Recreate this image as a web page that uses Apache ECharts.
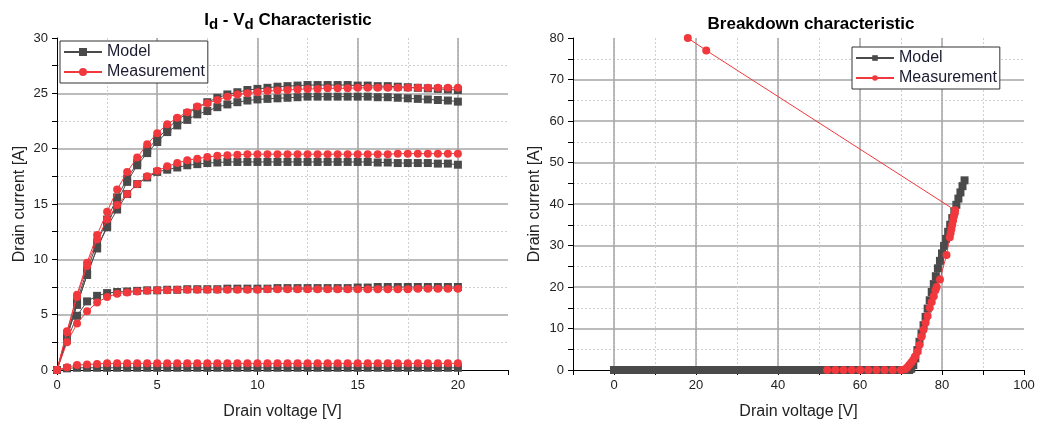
<!DOCTYPE html>
<html lang="en">
<head>
    <meta charset="UTF-8">
    <title>Id-Vd and breakdown</title>
    <script src="https://cdn.jsdelivr.net/npm/echarts@6/dist/echarts.min.js"></script>
    <style>
        html, body { margin: 0; padding: 0; background: #fff; }
        #chart { width: 1038px; height: 425px; }
    </style>
</head>
<body>
    <div id="chart"></div>

    <script>
        // ---- Id - Vd data (drain voltage sweep, 0.5 V step) ----
        var vdSweep = [0, 0.5, 1, 1.5, 2, 2.5, 3, 3.5, 4, 4.5, 5, 5.5, 6, 6.5, 7, 7.5, 8, 8.5, 9, 9.5, 10,
            10.5, 11, 11.5, 12, 12.5, 13, 13.5, 14, 14.5, 15, 15.5, 16, 16.5, 17, 17.5, 18, 18.5, 19, 19.5, 20];

        var modelA = [0, 3.2, 6.2, 9.0, 11.5, 13.6, 15.6, 17.3, 18.7, 19.9, 20.9, 21.8, 22.6, 23.2, 23.7, 24.2, 24.6, 24.9, 25.1, 25.3, 25.4,
            25.5, 25.6, 25.65, 25.7, 25.75, 25.75, 25.75, 25.75, 25.75, 25.7, 25.7, 25.65, 25.65, 25.6, 25.55, 25.5, 25.45, 25.4, 25.35, 25.3];
        var modelB = [0, 3.0, 5.9, 8.6, 11.0, 13.0, 15.2, 17.0, 18.5, 19.6, 20.6, 21.5, 22.1, 22.6, 23.1, 23.4, 23.75, 24.0, 24.2, 24.35, 24.45,
            24.5, 24.55, 24.6, 24.65, 24.7, 24.7, 24.7, 24.7, 24.7, 24.7, 24.7, 24.65, 24.65, 24.6, 24.55, 24.5, 24.45, 24.4, 24.35, 24.25];
        var modelC = [0, 3.0, 5.9, 8.6, 11.0, 12.9, 14.5, 15.9, 16.8, 17.4, 17.9, 18.1, 18.3, 18.5, 18.6, 18.7, 18.75, 18.8, 18.8, 18.8, 18.8,
            18.8, 18.8, 18.8, 18.8, 18.8, 18.8, 18.8, 18.8, 18.8, 18.8, 18.8, 18.75, 18.75, 18.7, 18.7, 18.7, 18.7, 18.65, 18.65, 18.55];
        var modelD = [0, 2.7, 4.9, 6.2, 6.7, 6.95, 7.05, 7.1, 7.15, 7.2, 7.2, 7.25, 7.25, 7.3, 7.3, 7.3, 7.3, 7.35, 7.35, 7.35, 7.35,
            7.35, 7.4, 7.4, 7.4, 7.4, 7.4, 7.4, 7.4, 7.4, 7.45, 7.45, 7.5, 7.5, 7.5, 7.5, 7.5, 7.5, 7.5, 7.5, 7.5];
        var modelE = [0, 0.15, 0.2, 0.2, 0.2, 0.2, 0.2, 0.2, 0.2, 0.2, 0.2, 0.2, 0.2, 0.2, 0.2, 0.2, 0.2, 0.2, 0.2, 0.2, 0.2,
            0.2, 0.2, 0.2, 0.2, 0.2, 0.2, 0.2, 0.2, 0.2, 0.2, 0.2, 0.2, 0.2, 0.2, 0.2, 0.2, 0.2, 0.2, 0.2, 0.2];

        var measA = [0, 3.5, 6.8, 9.7, 12.2, 14.3, 16.3, 17.9, 19.2, 20.4, 21.4, 22.2, 22.8, 23.3, 23.8, 24.1, 24.4, 24.7, 24.9, 25.0, 25.1,
            25.2, 25.25, 25.3, 25.35, 25.4, 25.4, 25.45, 25.45, 25.45, 25.5, 25.5, 25.5, 25.5, 25.5, 25.5, 25.5, 25.5, 25.5, 25.5, 25.5];
        var measC = [0, 3.4, 6.6, 9.4, 11.8, 13.6, 14.9, 15.9, 16.8, 17.5, 18.0, 18.4, 18.7, 18.95, 19.1, 19.25, 19.35, 19.4, 19.45, 19.5, 19.5,
            19.5, 19.5, 19.5, 19.5, 19.5, 19.5, 19.5, 19.5, 19.5, 19.5, 19.5, 19.5, 19.5, 19.55, 19.55, 19.55, 19.55, 19.55, 19.55, 19.55];
        var measD = [0, 2.5, 4.2, 5.3, 6.1, 6.6, 6.9, 7.0, 7.1, 7.15, 7.2, 7.2, 7.25, 7.25, 7.25, 7.25, 7.25, 7.25, 7.25, 7.25, 7.25,
            7.3, 7.3, 7.3, 7.3, 7.3, 7.3, 7.3, 7.3, 7.3, 7.3, 7.3, 7.3, 7.3, 7.3, 7.3, 7.35, 7.35, 7.35, 7.35, 7.35];
        var measE = [0, 0.25, 0.45, 0.5, 0.55, 0.6, 0.6, 0.6, 0.6, 0.6, 0.6, 0.6, 0.6, 0.6, 0.6, 0.6, 0.6, 0.6, 0.6, 0.6, 0.6,
            0.6, 0.6, 0.6, 0.6, 0.6, 0.6, 0.6, 0.6, 0.6, 0.6, 0.6, 0.6, 0.6, 0.6, 0.6, 0.6, 0.6, 0.6, 0.6, 0.6];

        // ---- breakdown data ----
        var bdModelV = [0, 1.5, 3, 4.5, 6, 7.5, 9, 10.5, 12, 13.5, 15, 16.5, 18, 19.5, 21, 22.5, 24, 25.5, 27, 28.5, 30,
            31.5, 33, 34.5, 36, 37.5, 39, 40.5, 42, 43.5, 45, 46.5, 48, 49.5, 51, 52.5, 54, 55.5, 57, 58.5, 60,
            61.5, 63, 64.5, 66, 67.5, 69, 70.5, 72, 72.5, 73, 73.5, 74, 74.5, 75, 75.5, 76, 76.5, 77, 77.5, 78,
            78.5, 79, 79.5, 80, 80.5, 81, 81.5, 82, 82.5, 83, 83.5, 84, 84.5, 85, 85.5];
        var bdModelI = [0, 0, 0, 0, 0, 0, 0, 0, 0, 0, 0, 0, 0, 0, 0, 0, 0, 0, 0, 0, 0,
            0, 0, 0, 0, 0, 0, 0, 0, 0, 0, 0, 0, 0, 0, 0, 0, 0, 0, 0, 0,
            0, 0, 0, 0, 0, 0, 0, 0, 0.3, 1.2, 2.8, 4.8, 6.8, 8.8, 10.8, 12.8, 14.8, 16.8, 18.8, 20.7,
            22.6, 24.5, 26.3, 28.1, 29.9, 31.6, 33.3, 35.0, 36.6, 38.2, 39.8, 41.3, 42.8, 44.3, 45.7];

        var bdMeasV = [52, 54, 56, 58, 60, 62, 64, 66, 68, 70, 71, 71.5, 72, 72.5, 73, 73.5, 74, 74.5, 75, 75.5,
            76, 76.5, 77, 77.5, 78, 78.4, 78.7, 79.5, 81.1, 81.9, 82.1, 82.3, 82.5, 82.7, 82.9, 83.1, 83.2, 22.5, 18];
        var bdMeasI = [0, 0, 0, 0, 0, 0, 0, 0, 0, 0, 0.2, 0.6, 1.2, 1.8, 2.5, 3.3, 4.4, 6.0, 8.0, 9.7,
            11.4, 13.0, 15.0, 16.4, 17.8, 19.2, 20.0, 21.8, 27.7, 32.0, 33.0, 34.0, 35.0, 36.0, 37.0, 37.8, 38.5, 77, 80];

        var leftXTicks = [0, 5, 10, 15, 20];
        var rightXTicks = [0, 20, 40, 60, 80, 100];

        var modelColor = '#4a4a4a';
        var measColor = '#f0383d';
        var font = 'Liberation Sans, Arial, sans-serif';

        function pairs(xs, ys) {
            return xs.map(function (x, i) { return [x, ys[i]]; });
        }

        function modelSeries(data, grid, size) {
            return {
                name: 'Model', type: 'line', xAxisIndex: grid * 2, yAxisIndex: grid,
                data: data, symbol: 'rect', symbolSize: size,
                itemStyle: { color: modelColor },
                lineStyle: { color: modelColor, width: 1 },
                z: 3
            };
        }
        function measSeries(data, grid, size) {
            return {
                name: 'Measurement', type: 'line', xAxisIndex: grid * 2, yAxisIndex: grid,
                data: data, symbol: 'circle', symbolSize: size,
                itemStyle: { color: measColor },
                lineStyle: { color: measColor, width: 1 },
                z: 4
            };
        }

        var majorLine = { show: true, showMinLine: false, showMaxLine: false, lineStyle: { color: '#a6a6a6', width: 1.5, type: 'solid' } };
        var minorLine = { show: true, showMinLine: false, showMaxLine: false, lineStyle: { color: '#cfcfcf', width: 1, type: [2, 2] } };

        function mainX(grid, min, max, interval, ticks) {
            return {
                type: 'value', gridIndex: grid, position: 'bottom', min: min, max: max, interval: interval,
                name: 'Drain voltage [V]', nameLocation: 'middle', nameGap: 34,
                nameTextStyle: { fontSize: 16, color: '#222', fontFamily: font },
                axisLine: { show: true, onZero: false, lineStyle: { color: '#000', width: 1 } },
                axisTick: { show: true, length: 5, lineStyle: { color: '#000' } },
                axisLabel: {
                    fontSize: 13, color: '#222', fontFamily: font, margin: 9,
                    formatter: function (v) { return ticks.indexOf(v) >= 0 ? String(v) : ''; }
                },
                splitLine: minorLine
            };
        }
        function helperX(grid, min, max, interval, splitNumber) {
            var ax = {
                type: 'value', gridIndex: grid, position: 'bottom', min: min, max: max,
                axisLine: { show: false }, axisTick: { show: false }, axisLabel: { show: false },
                splitLine: majorLine
            };
            if (interval) ax.interval = interval; else ax.splitNumber = splitNumber;
            return ax;
        }
        function mainY(grid, max, interval, gap) {
            return {
                type: 'value', gridIndex: grid, min: 0, max: max, interval: interval,
                name: 'Drain current [A]', nameLocation: 'middle', nameGap: gap,
                nameTextStyle: { fontSize: 16, color: '#222', fontFamily: font },
                axisLine: { show: true, onZero: false, lineStyle: { color: '#000', width: 1 } },
                axisTick: { show: true, length: 5, lineStyle: { color: '#000' } },
                minorTick: { show: true, splitNumber: 2, length: 5, lineStyle: { color: '#000' } },
                minorSplitLine: { show: true, lineStyle: { color: '#cfcfcf', width: 1, type: [2, 2] } },
                axisLabel: { fontSize: 13, color: '#222', fontFamily: font, margin: 9 },
                splitLine: majorLine
            };
        }

        var chart = echarts.init(document.getElementById('chart'));

        var option = {
            animation: false,
            backgroundColor: '#fff',
            title: [{
                text: '{b|I}{s|d}{b| - V}{s|d}{b| Characteristic}',
                left: 283, top: 3, textAlign: 'center',
                textStyle: {
                    rich: {
                        b: { fontSize: 17, fontWeight: 'bold', color: '#000', fontFamily: font, lineHeight: 24 },
                        s: { fontSize: 15, fontWeight: 'bold', color: '#000', fontFamily: font, lineHeight: 15, verticalAlign: 'bottom' }
                    }
                }
            }, {
                text: 'Breakdown characteristic',
                left: 806, top: 11, textAlign: 'center',
                textStyle: { fontSize: 17, fontWeight: 'bold', color: '#000', fontFamily: font }
            }],
            legend: [{
                orient: 'vertical', left: 60, top: 41,
                data: ['Model', 'Measurement'],
                backgroundColor: '#fff', borderColor: '#333', borderWidth: 1,
                padding: [3, 3, 3, 3], itemGap: 4, itemWidth: 38, itemHeight: 10,
                textStyle: { fontSize: 16, color: '#1c1c30', fontFamily: font }
            }, {
                orient: 'vertical', left: 852, top: 47,
                data: ['Model', 'Measurement'],
                backgroundColor: '#fff', borderColor: '#333', borderWidth: 1,
                padding: [3, 3, 3, 3], itemGap: 4, itemWidth: 38, itemHeight: 7,
                textStyle: { fontSize: 16, color: '#1c1c30', fontFamily: font }
            }],
            grid: [
                { left: 57, right: 530, top: 38, bottom: 55, outerBoundsMode: 'none' },
                { left: 573, right: 14, top: 38, bottom: 55, outerBoundsMode: 'none' }
            ],
            xAxis: [
                mainX(0, 0, 22.5, 2.5, leftXTicks),
                helperX(0, 0, 22.5, 5),
                mainX(1, -10, 100, 10, rightXTicks),
                helperX(1, -10, 100, null, 5)
            ],
            yAxis: [
                mainY(0, 30, 5, 29),
                mainY(1, 80, 10, 30)
            ],
            series: [
                modelSeries(pairs(vdSweep, modelA), 0, 8),
                modelSeries(pairs(vdSweep, modelB), 0, 8),
                modelSeries(pairs(vdSweep, modelC), 0, 8),
                modelSeries(pairs(vdSweep, modelD), 0, 8),
                modelSeries(pairs(vdSweep, modelE), 0, 8),
                measSeries(pairs(vdSweep, measA), 0, 8),
                measSeries(pairs(vdSweep, measC), 0, 8),
                measSeries(pairs(vdSweep, measD), 0, 8),
                measSeries(pairs(vdSweep, measE), 0, 8),
                modelSeries(pairs(bdModelV, bdModelI), 1, 8),
                measSeries(pairs(bdMeasV, bdMeasI), 1, 8)
            ]
        };

        chart.setOption(option);
    </script>
</body>
</html>
